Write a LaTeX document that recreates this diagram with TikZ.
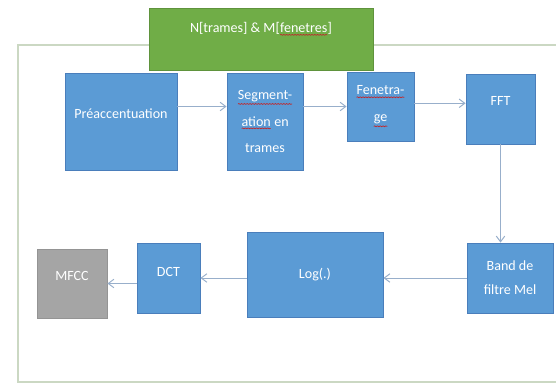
\documentclass[tikz,border=0pt]{standalone}
\usepackage{fontspec}
\setmainfont{Carlito}
\usetikzlibrary{arrows.meta,positioning,decorations.pathmorphing}
\definecolor{boxBlue}{HTML}{5B9BD5}
\definecolor{boxEdge}{HTML}{4A7EBB}
\definecolor{hdrGreen}{HTML}{70AD47}
\definecolor{mfccGray}{HTML}{A5A5A5}
\definecolor{frameGreen}{HTML}{CBD8C3}
\definecolor{linkBlue}{HTML}{98AFCB}
\definecolor{spellRed}{HTML}{C0282D}
%% word with a red wavy underline
\newcommand{\spellerr}[1]{\tikz[baseline=(w.base)]{\node[inner sep=0pt,outer sep=0pt,draw=none,fill=none,
    minimum width=0pt,minimum height=0pt] (w) {#1};
  \draw[spellRed,line width=0.5pt,decorate,decoration={snake,amplitude=0.3pt,segment length=2pt}]
    ([yshift=-1.6pt]w.south west) -- ([yshift=-1.6pt]w.south east);}}

\begin{document}
\begin{tikzpicture}[
    x=0.025cm, y=-0.025cm,
    >={Straight Barb[length=4pt,width=6pt]},
    stage/.style={draw=boxEdge,fill=boxBlue,line width=0.6pt,text=white,align=center,
      inner sep=1pt,font=\fontsize{10}{19}\selectfont},
    raised/.style={text depth=#1},
    link/.style={linkBlue,line width=0.7pt,->}
  ]
  \clip (0,0) rectangle (556,385);
  \fill[white] (0,0) rectangle (556,385);
  %% outer frame
  \draw[frameGreen,line width=1.4pt] (18,45) rectangle (570,382);
  %% header
  \node[fill=hdrGreen,draw=hdrGreen!85!black,line width=0.6pt,minimum width=5.6cm,minimum height=1.55cm]
    (hdr) at (261,39) {};
  \node[text=white,font=\fontsize{10}{12}\selectfont,inner sep=1pt] (hdrtxt) at (261,29)
    {N[trames] \& M[\spellerr{fenetres}]};
  %% top row
  \node[stage,raised=0.4cm,minimum width=2.8cm,minimum height=2.425cm] (pre) at (121,121.5) {Préaccentuation};
  \node[stage,minimum width=1.9cm,minimum height=2.425cm] (seg) at (265,121.5)
    {\spellerr{Segment-}\\\spellerr{ation} en\\trames};
  \node[stage,minimum width=1.675cm,minimum height=1.725cm] (fen) at (380.5,106.5)
    {\spellerr{Fenetra-}\\\spellerr{ge}};
  \node[stage,raised=0.4cm,minimum width=1.725cm,minimum height=1.75cm] (fft) at (500.5,109) {FFT};
  %% bottom row
  \node[stage,font=\fontsize{10}{17}\selectfont,minimum width=2.15cm,minimum height=1.75cm] (band) at (510,278)
    {Band de\\filtre Mel};
  \node[stage,minimum width=3.4cm,minimum height=2.125cm] (log) at (315,274.5) {Log(.)};
  \node[stage,raised=0.3cm,minimum width=1.575cm,minimum height=1.75cm] (dct) at (168.5,278) {DCT};
  \node[stage,raised=0.4cm,fill=mfccGray,draw=mfccGray!90!black,minimum width=1.75cm,minimum height=1.725cm]
    (mfcc) at (72,283.5) {MFCC};
  %% connectors
  \draw[link] (pre.east |- fen.west) -- (seg.west |- fen.west);
  \draw[link] (seg.east |- fen.west) -- (fen.west);
  \draw[link] ([yshift=0.08cm]fen.east) -- ([yshift=0.08cm]fft.west |- fen.east);
  \draw[link] (fft.south) -- (band.north -| fft.south);
  \draw[link] (band.west) -- (log.east |- band.west);
  \draw[link] (log.west |- dct.east) -- (dct.east);
  \draw[link] (dct.west |- mfcc.east) -- (mfcc.east);
\end{tikzpicture}
\end{document}
